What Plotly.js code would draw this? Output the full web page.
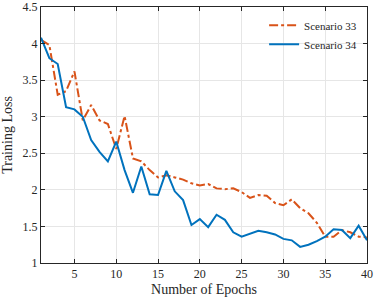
<!DOCTYPE html>
<html>
<head>
<meta charset="utf-8">
<script src="https://cdn.plot.ly/plotly-3.0.1.min.js"></script>
<style>html,body{margin:0;padding:0;background:#fff;}#chart{width:379px;height:299px;}</style>
</head>
<body>
<div id="chart"></div>
<script>
const epochs = [1,2,3,4,5,6,7,8,9,10,11,12,13,14,15,16,17,18,19,20,21,22,23,24,25,26,27,28,29,30,31,32,33,34,35,36,37,38,39,40];
const scenario33 = [4.05,3.98,3.30,3.35,3.62,2.95,3.16,2.95,2.90,2.56,3.01,2.43,2.39,2.27,2.17,2.20,2.17,2.14,2.09,2.06,2.08,2.02,2.01,2.02,1.97,1.89,1.93,1.92,1.82,1.79,1.87,1.75,1.68,1.55,1.36,1.36,1.45,1.42,1.36,1.35];
const scenario34 = [4.08,3.80,3.72,3.13,3.10,3.00,2.68,2.52,2.39,2.66,2.27,1.96,2.32,1.94,1.93,2.26,1.98,1.86,1.52,1.60,1.49,1.66,1.59,1.42,1.36,1.40,1.44,1.42,1.39,1.33,1.31,1.22,1.25,1.30,1.36,1.46,1.45,1.34,1.51,1.31];
const seriesNames = ['Scenario 33','Scenario 34'];
const xTicks = [5,10,15,20,25,30,35,40];
const yTicks = [1,1.5,2,2.5,3,3.5,4,4.5];

const font = {family: 'Liberation Serif, Times New Roman, serif', color: '#262626'};
const traces = [
  {x: epochs, y: scenario33, name: seriesNames[0], type: 'scatter', mode: 'lines',
   line: {color: '#D95319', width: 2, dash: 'dashdot'}},
  {x: epochs, y: scenario34, name: seriesNames[1], type: 'scatter', mode: 'lines',
   line: {color: '#0072BD', width: 2}}
];
const axisCommon = {
  showline: true, linecolor: '#262626', linewidth: 1, mirror: 'ticks',
  ticks: 'inside', ticklen: 4, tickcolor: '#262626',
  showgrid: true, gridcolor: '#e6e6e6', gridwidth: 1, zeroline: false,
  tickfont: {family: font.family, size: 12, color: '#262626'}
};
const layout = {
  width: 379, height: 299,
  margin: {l: 41, r: 12, t: 7, b: 36},
  paper_bgcolor: '#ffffff', plot_bgcolor: '#ffffff',
  font: font,
  showlegend: true,
  legend: {x: 0.985, y: 0.985, xanchor: 'right', yanchor: 'top', bgcolor: 'rgba(255,255,255,0)',
           borderwidth: 0, font: {family: font.family, size: 11, color: '#262626'},
           itemwidth: 30, tracegroupgap: 0},
  xaxis: Object.assign({}, axisCommon, {range: [1, 40], tickmode: 'array', tickvals: xTicks,
          title: {text: 'Number of Epochs', font: {family: font.family, size: 14, color: '#262626'}, standoff: 3}}),
  yaxis: Object.assign({}, axisCommon, {range: [1, 4.5], tickmode: 'array', tickvals: yTicks,
          title: {text: 'Training Loss', font: {family: font.family, size: 14, color: '#262626'}, standoff: 6}})
};
Plotly.newPlot('chart', traces, layout, {displayModeBar: false, staticPlot: true});
</script>
</body>
</html>
